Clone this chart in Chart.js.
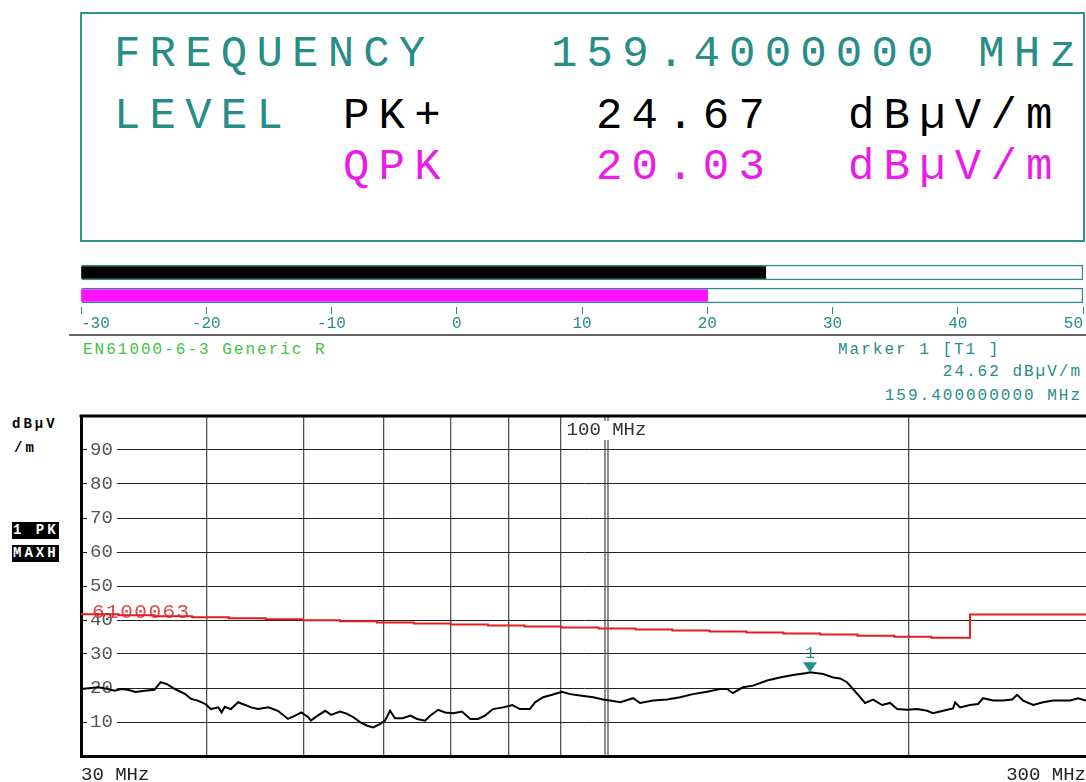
<!DOCTYPE html>
<html>
<head>
<meta charset="utf-8">
<script src="https://cdn.jsdelivr.net/npm/chart.js@4.4.0/dist/chart.umd.min.js"></script>
<style>
html, body { margin: 0; padding: 0; background: #fff; }
body { width: 1086px; height: 782px; position: relative; overflow: hidden; font-family: "Liberation Mono", monospace; }
.t { position: absolute; white-space: pre; line-height: 1; }
#box { position: absolute; left: 80px; top: 12px; width: 1001px; height: 226px; border: 2px solid #2f948e; }
.big { font-size: 44px; letter-spacing: 9.2px; }
.teal { color: #278d87; }
.mag { color: #e81ee8; }
.small { font-size: 16px; letter-spacing: 2px; }
.side { font-size: 14px; font-weight: bold; letter-spacing: 3px; }
.inv { background: #000; color: #fff; padding: 1px 0 2px 1px; }
#sep { position: absolute; left: 69px; top: 334px; width: 1017px; height: 2px; background: #666; }
canvas { position: absolute; left: 0; }
</style>
</head>
<body>

<div id="box"></div>
<div class="t big teal" style="left:114px;top:32px">FREQUENCY</div>
<div class="t big teal" style="left:551px;top:32px">159.4000000 MHz</div>
<div class="t big teal" style="left:114px;top:94px">LEVEL</div>
<div class="t big" style="left:343px;top:94px">PK+</div>
<div class="t big" style="left:596px;top:94px">24.67</div>
<div class="t big" style="left:848px;top:94px">dBµV/m</div>
<div class="t big mag" style="left:343px;top:145px">QPK</div>
<div class="t big mag" style="left:596px;top:145px">20.03</div>
<div class="t big mag" style="left:848px;top:145px">dBµV/m</div>

<canvas id="meter" width="1086" height="75" style="top:258px"></canvas>
<div id="sep"></div>

<div class="t small" style="left:83px;top:342px;color:#3ec43e">EN61000-6-3 Generic R</div>
<div class="t small teal" style="left:838px;top:342px">Marker 1 [T1 ]</div>
<div class="t small teal" style="right:4px;top:364px">24.62 dBµV/m</div>
<div class="t small teal" style="right:4px;top:388px">159.400000000 MHz</div>

<div class="t side" style="left:12px;top:417px">dBµV</div>
<div class="t side" style="left:14px;top:441px">/m</div>
<div class="t side inv" style="left:12px;top:522px">1 PK</div>
<div class="t side inv" style="left:12px;top:545px">MAXH</div>

<canvas id="scan" width="1086" height="377" style="top:405px"></canvas>

<script>
// meter bars (dBµV/m)
const meterRows = ['PK+', 'QPK'];
const meterLevels = [24.67, 20.03];
const meterColors = ['#000000', '#ff10ff'];
const meterMin = -30, meterMax = 50;

// scan: peak trace, 1 PK MAXH
const traceFreq = [30, 30.7, 31.2, 31.9, 32.4, 32.9, 33.4, 34.0, 34.7, 35.5, 36.0, 36.5, 37.2, 38.1, 38.6,
  39.2, 39.9, 40.4, 41.1, 41.4, 41.7, 42.3, 43.0, 43.7, 44.3, 45.0, 46.1, 47.1, 48.2, 49.0, 49.7, 50.5,
  50.8, 51.6, 52.5, 53.2, 54.3, 55.2, 56.0, 56.9, 57.8, 58.6, 59.5, 60.2, 60.9, 61.6, 62.7, 63.8, 64.8,
  66.0, 66.8, 68.0, 69.1, 70.4, 71.8, 73.2, 74.5, 75.7, 77.1, 78.9, 80.6, 82.0, 83.9, 84.9, 86.5, 88.3,
  90.3, 92.0, 94.1, 97.0, 99.2, 100.8, 103.2, 106.3, 108.0, 111.3, 114.9, 118.4, 121.9, 125.9, 129.7,
  131.8, 133.6, 136.7, 139.9, 144.5, 148.8, 153.3, 158.3, 159.4, 164.3, 168.1, 170.8, 173.5, 175.9,
  178.8, 180.8, 184.2, 188.0, 191.5, 194.6, 199.1, 203.7, 208.5, 211.3, 216.2, 221.2, 222.3, 224.8,
  230.0, 234.3, 237.0, 242.5, 248.1, 253.3, 256.2, 259.7, 265.8, 271.9, 278.2, 284.7, 289.3, 294.6, 300];
const traceLevel = [19.7, 20.0, 20.2, 19.7, 19.2, 19.7, 19.5, 18.8, 19.2, 19.5, 21.7, 21.2, 19.7, 18.2, 16.8,
  16.3, 15.3, 13.8, 14.3, 12.8, 14.5, 13.8, 15.8, 15.0, 14.3, 13.8, 14.3, 13.3, 10.9, 11.9, 12.8, 11.4,
  10.4, 11.9, 13.3, 12.1, 13.1, 12.4, 11.4, 9.9, 8.9, 8.4, 9.4, 10.4, 13.3, 11.1, 11.1, 11.9, 10.9,
  10.4, 11.9, 13.6, 12.8, 12.6, 13.1, 10.9, 10.9, 11.9, 13.8, 14.3, 15.0, 13.8, 13.8, 15.8, 17.3, 18.0,
  18.9, 18.2, 17.8, 17.3, 16.6, 16.3, 15.8, 17.0, 15.6, 16.3, 16.6, 17.3, 18.2, 18.9, 19.7,
  19.7, 18.5, 20.2, 20.7, 22.2, 23.1, 23.8, 24.4, 24.6, 24.1, 23.1, 22.8, 21.7, 19.7,
  17.3, 15.6, 16.6, 15.0, 15.6, 13.8, 13.6, 13.8, 13.3, 12.6, 13.3, 14.0, 15.8, 14.3,
  15.0, 15.3, 17.0, 16.3, 16.3, 16.6, 18.0, 16.3, 15.0, 15.8, 16.3, 16.3, 16.3, 17.0, 16.3];

// limit line 6100063 (stepped)
const limitFreq = [30, 32.7, 35.5, 38.7, 42.1, 45.8, 49.9, 54.3, 59.1, 64.3, 70.0, 76.2, 82.9, 90.2, 98.2,
  106.9, 116.3, 126.6, 137.8, 150.0, 163.2, 177.7, 193.4, 210.5, 230.0, 300];
const limitLevel = [41.7, 41.4, 41.1, 40.8, 40.5, 40.2, 39.9, 39.6, 39.3, 39.0, 38.7, 38.4, 38.1, 37.8, 37.5,
  37.2, 36.9, 36.6, 36.3, 36.0, 35.7, 35.4, 35.1, 34.8, 41.6, 41.6];
const limitName = '6100063';

const marker = { freq: 159.4, level: 24.62, label: '1' };

const xTicks = [30, 40, 50, 60, 70, 80, 90, 100, 200, 300];
const yTicks = [10, 20, 30, 40, 50, 60, 70, 80, 90];

const teal = '#278d87';
const mono = 'Liberation Mono';

function pts(xs, ys) { return xs.map((x, i) => ({ x, y: ys[i] })); }

// --- meter bars ---
new Chart(document.getElementById('meter'), {
  type: 'bar',
  data: {
    labels: meterRows,
    datasets: [
      { data: meterLevels, backgroundColor: meterColors, base: meterMin, barThickness: 12, grouped: false, order: 0 },
      { data: meterRows.map(() => meterMax), backgroundColor: '#fff', borderColor: teal, borderWidth: 1.5,
        base: meterMin, barThickness: 15, grouped: false, order: 1 }
    ]
  },
  options: {
    indexAxis: 'y', responsive: false, animation: false, events: [],
    layout: { padding: { left: 81, right: 3, top: 3, bottom: 0 } },
    plugins: { legend: { display: false }, tooltip: { enabled: false } },
    scales: {
      y: { display: false },
      x: {
        min: meterMin, max: meterMax,
        afterFit: s => { s.height = 26; s.paddingLeft = 0; s.paddingRight = 0; },
        ticks: { stepSize: 10, color: teal, align: 'inner', padding: 0, font: { family: mono, size: 16 } },
        grid: { drawOnChartArea: false, color: teal, tickLength: 7 },
        border: { display: false }
      }
    }
  }
});

// --- scan chart ---
const extras = {
  id: 'extras',
  beforeDatasetsDraw(chart) {
    const { ctx, chartArea: a, scales: { x, y } } = chart;
    ctx.save();
    // 100 MHz double line
    const p100 = x.getPixelForValue(100);
    ctx.strokeStyle = '#444'; ctx.lineWidth = 1.2;
    ctx.beginPath();
    ctx.moveTo(p100 - 1.5, a.top); ctx.lineTo(p100 - 1.5, a.bottom);
    ctx.moveTo(p100 + 1.5, a.top); ctx.lineTo(p100 + 1.5, a.bottom);
    ctx.stroke();
    ctx.font = '21px "' + mono + '"';
    ctx.letterSpacing = '1.5px';
    ctx.fillStyle = '#e04848';
    ctx.textBaseline = 'middle';
    ctx.fillText(limitName, x.getPixelForValue(limitFreq[0]) + 11, y.getPixelForValue(limitLevel[0]) - 2);
    ctx.restore();
  },
  afterDatasetsDraw(chart) {
    const { ctx, chartArea: a, scales: { x, y } } = chart;
    ctx.save();
    // frame top
    ctx.strokeStyle = '#000'; ctx.lineWidth = 3;
    ctx.beginPath(); ctx.moveTo(a.left - 1.5, a.top); ctx.lineTo(a.right, a.top); ctx.stroke();
    // 100 MHz label
    const p100 = x.getPixelForValue(100);
    ctx.fillStyle = '#fff';
    ctx.fillRect(p100 - 3, a.top + 5, 6, 19);
    ctx.font = '19px "' + mono + '"';
    ctx.fillStyle = '#333';
    ctx.textAlign = 'center'; ctx.textBaseline = 'middle';
    ctx.fillText('100 MHz', p100, a.top + 14);
    // marker 1
    const mx = x.getPixelForValue(marker.freq), my = y.getPixelForValue(marker.level);
    ctx.fillStyle = '#1f8f8a';
    ctx.beginPath();
    ctx.moveTo(mx, my); ctx.lineTo(mx - 7, my - 10); ctx.lineTo(mx + 7, my - 10); ctx.closePath();
    ctx.fill();
    ctx.font = '16px "' + mono + '"';
    ctx.fillText(marker.label, mx, my - 19);
    ctx.restore();
  }
};

new Chart(document.getElementById('scan'), {
  type: 'line',
  data: {
    datasets: [
      { data: pts(traceFreq, traceLevel), borderColor: '#000', borderWidth: 2, pointRadius: 0, tension: 0 },
      { data: pts(limitFreq, limitLevel), borderColor: '#e41e1e', borderWidth: 2, pointRadius: 0, stepped: true }
    ]
  },
  options: {
    responsive: false, animation: false, events: [],
    layout: { padding: { left: 81, right: 0, top: 11, bottom: 0 } },
    plugins: { legend: { display: false }, tooltip: { enabled: false } },
    scales: {
      x: {
        type: 'logarithmic', min: 30, max: 300,
        afterBuildTicks: s => { s.ticks = xTicks.map(v => ({ value: v })); },
        afterFit: s => { s.height = 26; s.paddingLeft = 0; s.paddingRight = 0; },
        ticks: {
          autoSkip: false, maxRotation: 0, align: 'inner', padding: 8, color: '#222',
          font: { family: mono, size: 19 },
          callback: v => (v === 30 || v === 300) ? v + ' MHz' : ''
        },
        grid: {
          drawTicks: false,
          color: '#555',
          lineWidth: c => {
            const v = c.tick && c.tick.value;
            return (v === 30 || v === 300 || v === 100) ? 0 : 1.3;
          }
        },
        border: { color: '#000', width: 3 }
      },
      y: {
        min: 0, max: 100,
        afterBuildTicks: s => { s.ticks = yTicks.map(v => ({ value: v })); },
        afterFit: s => { s.width = 0; s.paddingTop = 0; s.paddingBottom = 0; },
        ticks: {
          mirror: true, padding: 9, color: '#555', font: { family: mono, size: 19 },
          showLabelBackdrop: true, backdropColor: '#fff',
          backdropPadding: { left: 3, right: 4, top: 0, bottom: 0 }
        },
        grid: { drawTicks: false, color: '#222', lineWidth: 1 },
        border: { color: '#000', width: 3 }
      }
    }
  },
  plugins: [extras]
});
</script>
</body>
</html>
